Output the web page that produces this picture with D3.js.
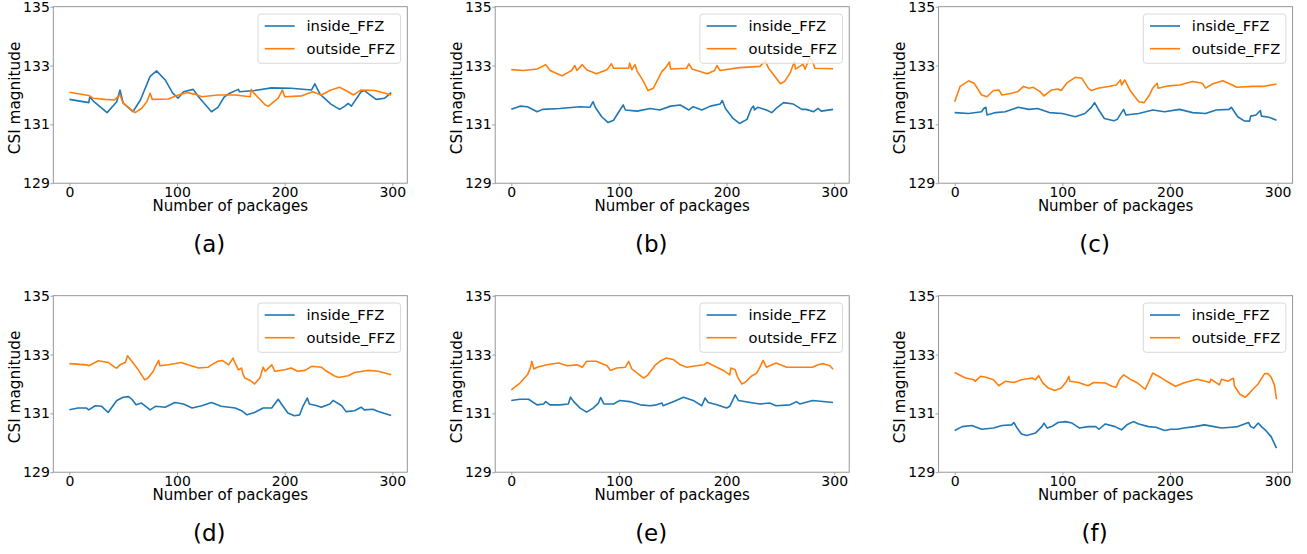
<!DOCTYPE html>
<html><head><meta charset="utf-8">
<script src="https://cdn.jsdelivr.net/npm/d3@7"></script>
<style>body{margin:0;background:#fff}svg{display:block;font-family:"DejaVu Sans",sans-serif}</style>
</head><body><svg id="chart" width="1307" height="554"></svg>
<script>
const seriesNames = ["inside_FFZ", "outside_FFZ"];
const captions = ["(a)", "(b)", "(c)", "(d)", "(e)", "(f)"];
const xTicks = [0, 100, 200, 300];
const yTicks = [129, 131, 133, 135];
const xLabel = "Number of packages";
const yLabel = "CSI magnitude";

const insideA = [[0,131.85],[18,131.74],[19,131.94],[22,131.8],[35,131.40],[44,131.77],[47,132.17],[50,131.72],[59,131.43],[66,131.83],[75,132.63],[81,132.82],[89,132.51],[96,132.06],[101,131.89],[106,132.11],[115,132.19],[120,131.94],[132,131.43],[138,131.58],[144,131.94],[149,132.06],[157,132.19],[158,132.11],[172,132.15],[188,132.24],[206,132.23],[225,132.17],[228,132.38],[233,132.02],[243,131.69],[251,131.51],[256,131.62],[259,131.71],[262,131.62],[271,132.11],[274,132.15],[285,131.85],[293,131.89],[299,132.08]];
const outsideA = [[0,132.09],[18,131.98],[22,131.89],[33,131.85],[42,131.83],[47,132.0],[50,131.72],[61,131.40],[67,131.54],[72,131.77],[75,132.06],[77,131.85],[92,131.86],[101,132.0],[110,132.08],[117,132.02],[123,131.94],[138,132.0],[154,132.0],[168,131.94],[169,132.19],[171,132.08],[182,131.66],[185,131.62],[194,131.89],[198,132.17],[200,131.94],[216,131.97],[226,132.11],[234,132.0],[243,132.17],[251,132.26],[259,132.11],[264,132.0],[271,132.17],[284,132.15],[299,132.0]];
const insideB = [[0,131.51],[8,131.62],[15,131.6],[24,131.43],[29,131.51],[45,131.54],[64,131.60],[73,131.58],[76,131.77],[78,131.58],[84,131.26],[90,131.06],[95,131.14],[101,131.49],[104,131.66],[106,131.49],[117,131.45],[129,131.54],[138,131.49],[148,131.62],[157,131.66],[165,131.49],[169,131.6],[177,131.49],[185,131.62],[194,131.69],[196,131.81],[199,131.54],[206,131.20],[212,131.03],[219,131.17],[223,131.54],[225,131.62],[226,131.49],[229,131.58],[237,131.49],[242,131.40],[246,131.54],[253,131.74],[262,131.69],[270,131.51],[274,131.51],[281,131.43],[285,131.54],[288,131.45],[299,131.51]];
const outsideB = [[0,132.86],[11,132.83],[24,132.88],[32,133.03],[36,132.83],[47,132.65],[56,132.83],[59,133.0],[61,132.83],[66,133.03],[70,132.86],[79,132.72],[89,132.86],[93,133.06],[95,132.91],[109,132.91],[110,133.08],[112,132.86],[115,133.03],[117,132.8],[122,132.51],[127,132.15],[132,132.23],[140,132.80],[143,132.91],[147,133.12],[148,132.88],[163,132.91],[165,133.06],[168,132.88],[182,132.72],[189,132.83],[191,133.0],[194,132.83],[212,132.93],[231,132.97],[236,133.16],[239,132.91],[245,132.63],[250,132.38],[254,132.46],[259,132.74],[263,133.14],[264,132.88],[268,132.97],[271,133.05],[273,132.88],[277,133.25],[280,133.14],[282,132.91],[299,132.89]];
const insideC = [[0,131.40],[13,131.37],[25,131.43],[27,131.54],[29,131.58],[30,131.32],[38,131.40],[47,131.43],[59,131.58],[69,131.51],[77,131.54],[88,131.40],[100,131.37],[112,131.26],[121,131.37],[127,131.58],[130,131.74],[133,131.54],[139,131.20],[148,131.12],[151,131.17],[155,131.40],[157,131.51],[159,131.32],[171,131.37],[184,131.49],[195,131.43],[209,131.51],[221,131.40],[233,131.37],[243,131.49],[255,131.51],[257,131.58],[263,131.26],[269,131.12],[274,131.11],[275,131.28],[280,131.32],[284,131.47],[285,131.28],[292,131.24],[299,131.14]];
const outsideC = [[0,131.77],[5,132.29],[13,132.48],[18,132.40],[25,132.0],[30,131.94],[36,132.15],[41,132.17],[44,132.0],[53,132.06],[59,132.12],[64,132.29],[69,132.23],[73,132.26],[79,132.12],[83,131.97],[90,132.17],[96,132.2],[99,132.15],[104,132.40],[112,132.60],[118,132.57],[124,132.23],[127,132.15],[133,132.23],[143,132.29],[150,132.34],[154,132.51],[155,132.34],[158,132.51],[163,132.15],[171,131.77],[176,131.74],[181,132.0],[184,132.23],[188,132.40],[189,132.23],[199,132.31],[209,132.34],[221,132.46],[230,132.40],[233,132.23],[240,132.38],[249,132.48],[258,132.34],[262,132.26],[277,132.29],[286,132.29],[299,132.37]];
const insideD = [[0,131.12],[8,131.18],[16,131.18],[18,131.12],[24,131.26],[30,131.24],[36,131.03],[39,131.18],[44,131.44],[50,131.55],[55,131.57],[58,131.48],[62,131.29],[67,131.35],[75,131.12],[80,131.24],[89,131.21],[98,131.37],[106,131.32],[114,131.18],[123,131.26],[132,131.37],[141,131.24],[154,131.18],[160,131.09],[165,130.95],[172,131.03],[180,131.18],[188,131.18],[194,131.48],[197,131.32],[203,131.01],[209,130.92],[214,130.95],[217,131.24],[221,131.52],[223,131.32],[230,131.26],[234,131.21],[242,131.32],[245,131.44],[253,131.26],[257,131.06],[265,131.09],[271,131.21],[274,131.12],[282,131.14],[287,131.06],[299,130.93]];
const outsideD = [[0,132.69],[16,132.65],[18,132.62],[27,132.79],[36,132.73],[42,132.57],[44,132.54],[47,132.65],[52,132.73],[54,132.96],[58,132.77],[64,132.48],[70,132.14],[73,132.2],[78,132.43],[80,132.60],[83,132.80],[84,132.62],[92,132.65],[104,132.73],[110,132.65],[120,132.54],[129,132.57],[132,132.65],[138,132.77],[142,132.80],[148,132.65],[152,132.88],[154,132.71],[157,132.48],[160,132.54],[161,132.37],[163,132.20],[168,132.12],[172,132.0],[177,132.2],[180,132.57],[182,132.43],[185,132.54],[188,132.65],[191,132.43],[200,132.48],[206,132.54],[212,132.43],[219,132.46],[225,132.6],[234,132.57],[239,132.43],[246,132.28],[250,132.22],[259,132.28],[265,132.39],[277,132.46],[287,132.43],[299,132.31]];
const insideE = [[0,131.44],[8,131.48],[16,131.48],[24,131.29],[30,131.32],[32,131.40],[36,131.29],[45,131.29],[53,131.32],[55,131.55],[58,131.40],[64,131.18],[70,131.04],[76,131.18],[81,131.35],[83,131.54],[86,131.32],[95,131.32],[101,131.44],[110,131.40],[120,131.29],[129,131.26],[135,131.29],[140,131.35],[141,131.26],[151,131.40],[160,131.55],[169,131.44],[177,131.26],[180,131.52],[183,131.37],[191,131.29],[200,131.18],[203,131.24],[208,131.63],[211,131.44],[222,131.37],[231,131.32],[240,131.35],[246,131.26],[259,131.29],[265,131.40],[268,131.32],[280,131.44],[299,131.37]];
const outsideE = [[0,131.80],[8,132.03],[15,132.31],[18,132.57],[19,132.77],[21,132.51],[24,132.57],[33,132.65],[44,132.71],[52,132.62],[61,132.65],[66,132.57],[70,132.77],[79,132.77],[89,132.62],[92,132.46],[98,132.54],[106,132.57],[109,132.77],[112,132.51],[117,132.37],[123,132.2],[127,132.31],[134,132.65],[138,132.77],[144,132.88],[151,132.82],[157,132.65],[163,132.57],[172,132.62],[179,132.65],[182,132.73],[191,132.57],[197,132.46],[203,132.31],[204,132.54],[208,132.48],[210,132.26],[214,132.0],[217,132.05],[223,132.26],[228,132.37],[231,132.57],[234,132.80],[237,132.57],[246,132.71],[256,132.57],[268,132.57],[280,132.57],[285,132.65],[290,132.69],[296,132.62],[299,132.5]];
const insideF = [[0,130.42],[7,130.55],[16,130.59],[25,130.46],[36,130.50],[44,130.59],[53,130.61],[55,130.69],[58,130.50],[62,130.30],[67,130.25],[75,130.33],[81,130.55],[83,130.67],[86,130.50],[90,130.55],[96,130.69],[103,130.72],[109,130.67],[116,130.50],[124,130.55],[131,130.55],[134,130.46],[140,130.64],[149,130.55],[155,130.44],[160,130.61],[166,130.72],[171,130.64],[180,130.55],[187,130.53],[195,130.42],[201,130.46],[207,130.46],[213,130.50],[223,130.55],[232,130.61],[241,130.55],[248,130.50],[257,130.53],[263,130.55],[273,130.69],[275,130.55],[278,130.50],[282,130.67],[285,130.55],[289,130.42],[294,130.21],[299,129.82]];
const outsideF = [[0,132.39],[10,132.20],[18,132.14],[19,132.09],[24,132.26],[29,132.23],[36,132.14],[41,131.94],[47,132.09],[55,132.05],[62,132.14],[72,132.20],[75,132.14],[78,132.28],[82,132.03],[87,131.86],[93,131.78],[99,131.86],[104,132.09],[106,132.26],[107,132.09],[115,132.05],[121,131.97],[124,131.94],[129,132.05],[140,132.03],[146,131.92],[150,131.89],[153,132.14],[157,132.31],[164,132.14],[170,132.03],[177,131.82],[180,132.05],[184,132.37],[191,132.23],[197,132.09],[205,131.92],[214,132.05],[225,132.16],[233,132.09],[237,132.05],[238,132.16],[246,131.97],[248,132.16],[254,132.09],[257,132.16],[259,132.19],[260,131.92],[265,131.65],[270,131.55],[274,131.69],[277,131.82],[282,132.0],[285,132.19],[288,132.35],[291,132.35],[294,132.23],[297,131.97],[299,131.48]];

const insideSeries = [insideA, insideB, insideC, insideD, insideE, insideF];
const outsideSeries = [outsideA, outsideB, outsideC, outsideD, outsideE, outsideF];
const colors = ["#1f77b4", "#ff7f0e"];

const svg = d3.select("#chart");
const colLeft = [53.3, 495.2, 938.6];
const rowTop = [6.7, 295.7];
const W = 354, H = 176.5;
const spine = "#8c8c8c";

captions.forEach((cap, i) => {
  const col = i % 3, row = Math.floor(i / 3);
  const left = colLeft[col], top = rowTop[row];
  const g = svg.append("g").attr("transform", `translate(${left},${top})`);
  const x = d3.scaleLinear().domain([-14.95, 313.95]).range([0, W]);
  const y = d3.scaleLinear().domain([129, 135]).range([H, 0]);

  const cid = "clip" + i;
  g.append("clipPath").attr("id", cid).append("rect").attr("width", W).attr("height", H);

  const xa = g.append("g").attr("transform", `translate(0,${H})`)
    .call(d3.axisBottom(x).tickValues(xTicks).tickFormat(d3.format("d")).tickSize(3).tickPadding(1));
  const ya = g.append("g").call(d3.axisLeft(y).tickValues(yTicks).tickFormat(d3.format("d")).tickSize(3).tickPadding(0.5));
  [xa, ya].forEach(a => {
    a.select(".domain").remove();
    a.selectAll(".tick line").attr("stroke", spine).attr("stroke-width", 0.8);
    a.selectAll(".tick text").attr("font-size", 14).attr("fill", "#000").attr("font-family", "DejaVu Sans");
  });

  const line = d3.line().x(d => x(d[0])).y(d => y(d[1]));
  const lg = g.append("g").attr("clip-path", `url(#${cid})`);
  [insideSeries[i], outsideSeries[i]].forEach((s, k) => {
    lg.append("path").datum(s).attr("d", line).attr("fill", "none")
      .attr("stroke", colors[k]).attr("stroke-width", 1.6).attr("stroke-linejoin", "round");
  });

  g.append("rect").attr("width", W).attr("height", H).attr("fill", "none")
    .attr("stroke", spine).attr("stroke-width", 0.9);

  const lw = 142.6, lh = 49.3;
  const leg = g.append("g").attr("transform", `translate(${W - 6.7 - lw},${7.3})`);
  leg.append("rect").attr("width", lw).attr("height", lh).attr("rx", 3)
    .attr("fill", "#fff").attr("fill-opacity", 0.8).attr("stroke", "#d5d5d5").attr("stroke-width", 0.9);
  seriesNames.forEach((nm, k) => {
    const yy = 12 + k * 22.7;
    leg.append("line").attr("x1", 6.7).attr("x2", 36.7).attr("y1", yy).attr("y2", yy)
      .attr("stroke", colors[k]).attr("stroke-width", 1.6);
    leg.append("text").attr("x", 48.5).attr("y", yy + 5.2).attr("font-size", 14.7).text(nm);
  });

  g.append("text").attr("x", W / 2).attr("y", 204.8).attr("text-anchor", "middle")
    .attr("font-size", 15).text(xLabel);
  g.append("text").attr("transform", `translate(${-33.5},${H / 2 + 3}) rotate(-90)`)
    .attr("text-anchor", "middle").attr("font-size", 15.3).text(yLabel);
  g.append("text").attr("x", W / 2 - 21).attr("y", 245).attr("text-anchor", "middle")
    .attr("font-size", 23).text(cap);
});
</script></body></html>
